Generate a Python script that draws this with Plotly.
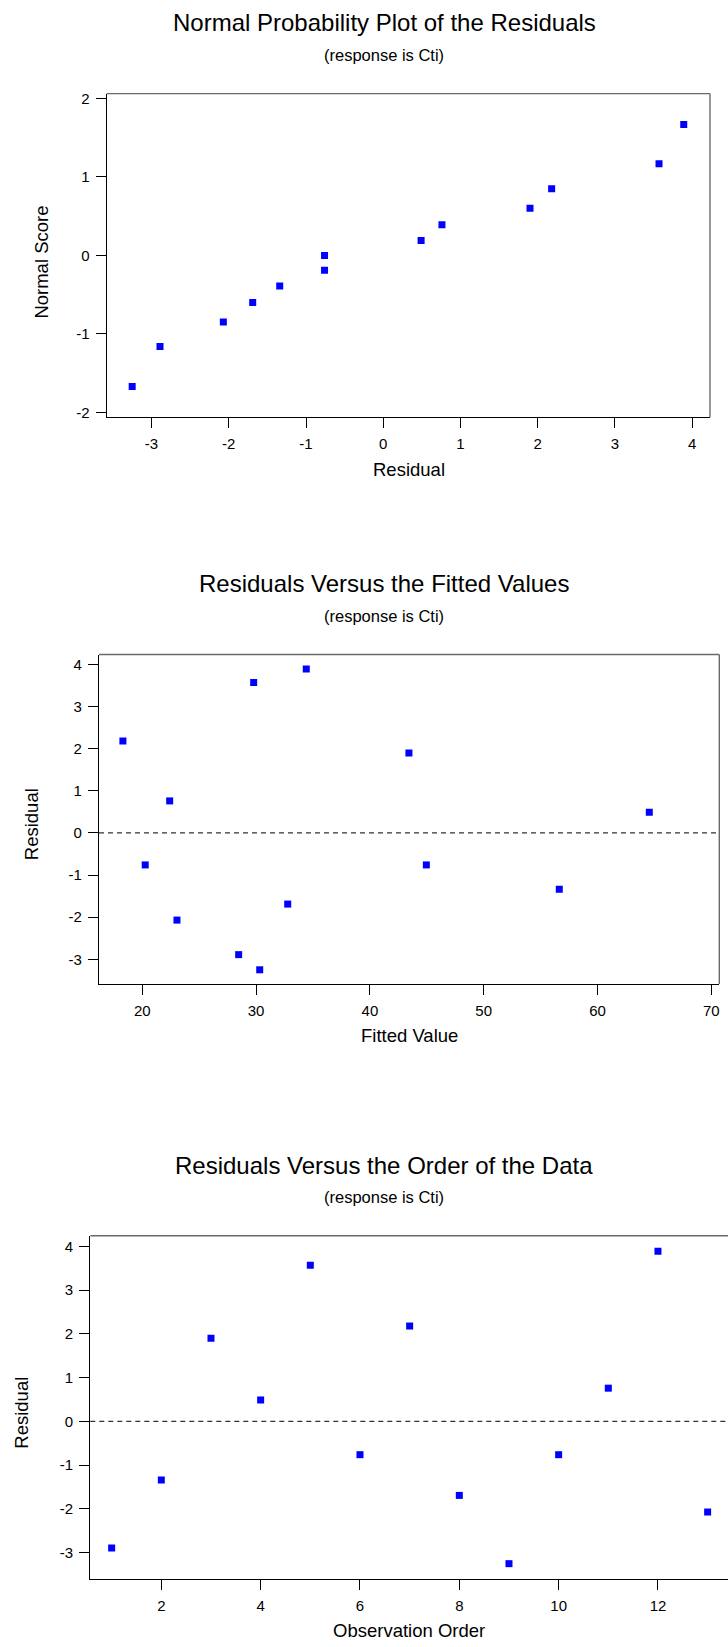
import plotly.graph_objects as go

# Residual diagnostics for the regression of Cti (13 observations)
observation = list(range(1, 14))
residual = [-2.89, -1.34, 1.90, 0.49, 3.57, -0.76, 2.18, -1.69, -3.25, -0.76, 0.76, 3.89, -2.07]
fitted = [28.47, 56.64, 43.43, 64.55, 29.79, 20.26, 18.30, 32.78, 30.32, 44.96, 22.41, 34.41, 23.05]
normal_score = [-1.16, -0.39, 0.60, 0.19, 1.17, -0.19, 0.85, -0.60, -1.67, 0.00, 0.39, 1.67, -0.85]

titles = [
    "Normal Probability Plot of the Residuals",
    "Residuals Versus the Fitted Values",
    "Residuals Versus the Order of the Data",
]
subtitle = "(response is Cti)"
x_titles = ["Residual", "Fitted Value", "Observation Order"]
y_titles = ["Normal Score", "Residual", "Residual"]

x_ticks = [[-3, -2, -1, 0, 1, 2, 3, 4], [20, 30, 40, 50, 60, 70], [2, 4, 6, 8, 10, 12]]
y_ticks = [[-2, -1, 0, 1, 2], [-3, -2, -1, 0, 1, 2, 3, 4], [-3, -2, -1, 0, 1, 2, 3, 4]]
x_ranges = [[-3.58, 4.23], [16.2, 70.7], [0.57, 13.41]]
y_ranges = [[-2.063, 2.063], [-3.59, 4.236], [-3.60, 4.243]]

W, H = 728, 1647
FONT = "Arial, Liberation Sans, sans-serif"
BLUE = "#0000FF"


def fx(px):
    return px / W


def fy(py):
    return 1 - py / H


# panel frames in page pixels: left, right, top, bottom
frames = [
    (106.7, 710.0, 90.0, 415.0),
    (99.0, 719.3, 653.3, 984.3),
    (90.3, 728.0, 1237.0, 1581.7),
]

fig = go.Figure()

series = [(residual, normal_score), (fitted, residual), (observation, residual)]
for i, (xs, ys) in enumerate(series):
    suffix = "" if i == 0 else str(i + 1)
    fig.add_trace(go.Scatter(
        x=xs, y=ys, mode="markers",
        marker=dict(symbol="square", size=7, color=BLUE, line=dict(width=0)),
        xaxis="x" + suffix, yaxis="y" + suffix,
        showlegend=False, hoverinfo="x+y",
    ))

axis_common = dict(
    showline=True, linecolor="#000000", linewidth=1.3,
    ticks="outside", ticklen=10, tickwidth=1.2, tickcolor="#000000",
    showgrid=False, zeroline=False, fixedrange=True,
    tickfont=dict(family=FONT, size=15, color="#000000"),
    ticklabelstandoff=3,
)

layout = dict(
    width=W, height=H,
    margin=dict(l=0, r=0, t=0, b=0),
    paper_bgcolor="white", plot_bgcolor="white",
    showlegend=False,
    font=dict(family=FONT, color="#000000"),
)

shapes = []
annotations = []
for i, (l, r, t, b) in enumerate(frames):
    suffix = "" if i == 0 else str(i + 1)
    layout["xaxis" + suffix] = dict(
        axis_common, domain=[fx(l), fx(r)], range=x_ranges[i],
        tickvals=x_ticks[i], ticktext=[str(v) for v in x_ticks[i]],
        anchor="y" + suffix,
    )
    layout["yaxis" + suffix] = dict(
        axis_common, domain=[fy(b), fy(t)], range=y_ranges[i],
        tickvals=y_ticks[i], ticktext=[str(v) for v in y_ticks[i]],
        anchor="x" + suffix,
    )
    xd, yd = "x" + suffix + " domain", "y" + suffix + " domain"
    # top edge of the frame
    shapes.append(dict(type="line", xref=xd, yref=yd, x0=0, x1=1, y0=1, y1=1,
                       line=dict(color="#6a6a6a", width=1.4), layer="above"))
    if i < 2:
        # right edge of the frame
        shapes.append(dict(type="line", xref=xd, yref=yd, x0=1, x1=1, y0=0, y1=1,
                           line=dict(color="#6a6a6a", width=1.4), layer="above"))
    if i > 0:
        # zero-residual reference line
        shapes.append(dict(type="line", xref=xd, yref="y" + suffix, x0=0, x1=1, y0=0, y1=0,
                           line=dict(color="#333333", width=1.2, dash="5px,4px"), layer="below"))

    # chart title and subtitle
    annotations.append(dict(text=titles[i], xref="paper", yref="paper",
                            x=fx(384), y=fy(t - 71), xanchor="center", yanchor="middle",
                            showarrow=False, font=dict(family=FONT, size=24, color="#000000")))
    annotations.append(dict(text=subtitle, xref="paper", yref="paper",
                            x=fx(384), y=fy(t - 39), xanchor="center", yanchor="middle",
                            showarrow=False, font=dict(family=FONT, size=16.5, color="#000000")))
    # x-axis title
    annotations.append(dict(text=x_titles[i], xref="paper", yref="paper",
                            x=fx(409), y=fy(b + 52), xanchor="center", yanchor="middle",
                            showarrow=False, font=dict(family=FONT, size=18.5, color="#000000")))

y_title_pos = [(41.7, 259), (31.7, 824), (21.7, 1415)]
for i, (px, py) in enumerate(y_title_pos):
    annotations.append(dict(text=y_titles[i], xref="paper", yref="paper",
                            x=fx(px), y=fy(py), xanchor="center", yanchor="middle",
                            textangle=-90, showarrow=False,
                            font=dict(family=FONT, size=18.5, color="#000000")))

layout["shapes"] = shapes
layout["annotations"] = annotations
fig.update_layout(**layout)

fig.write_html("out.html")
